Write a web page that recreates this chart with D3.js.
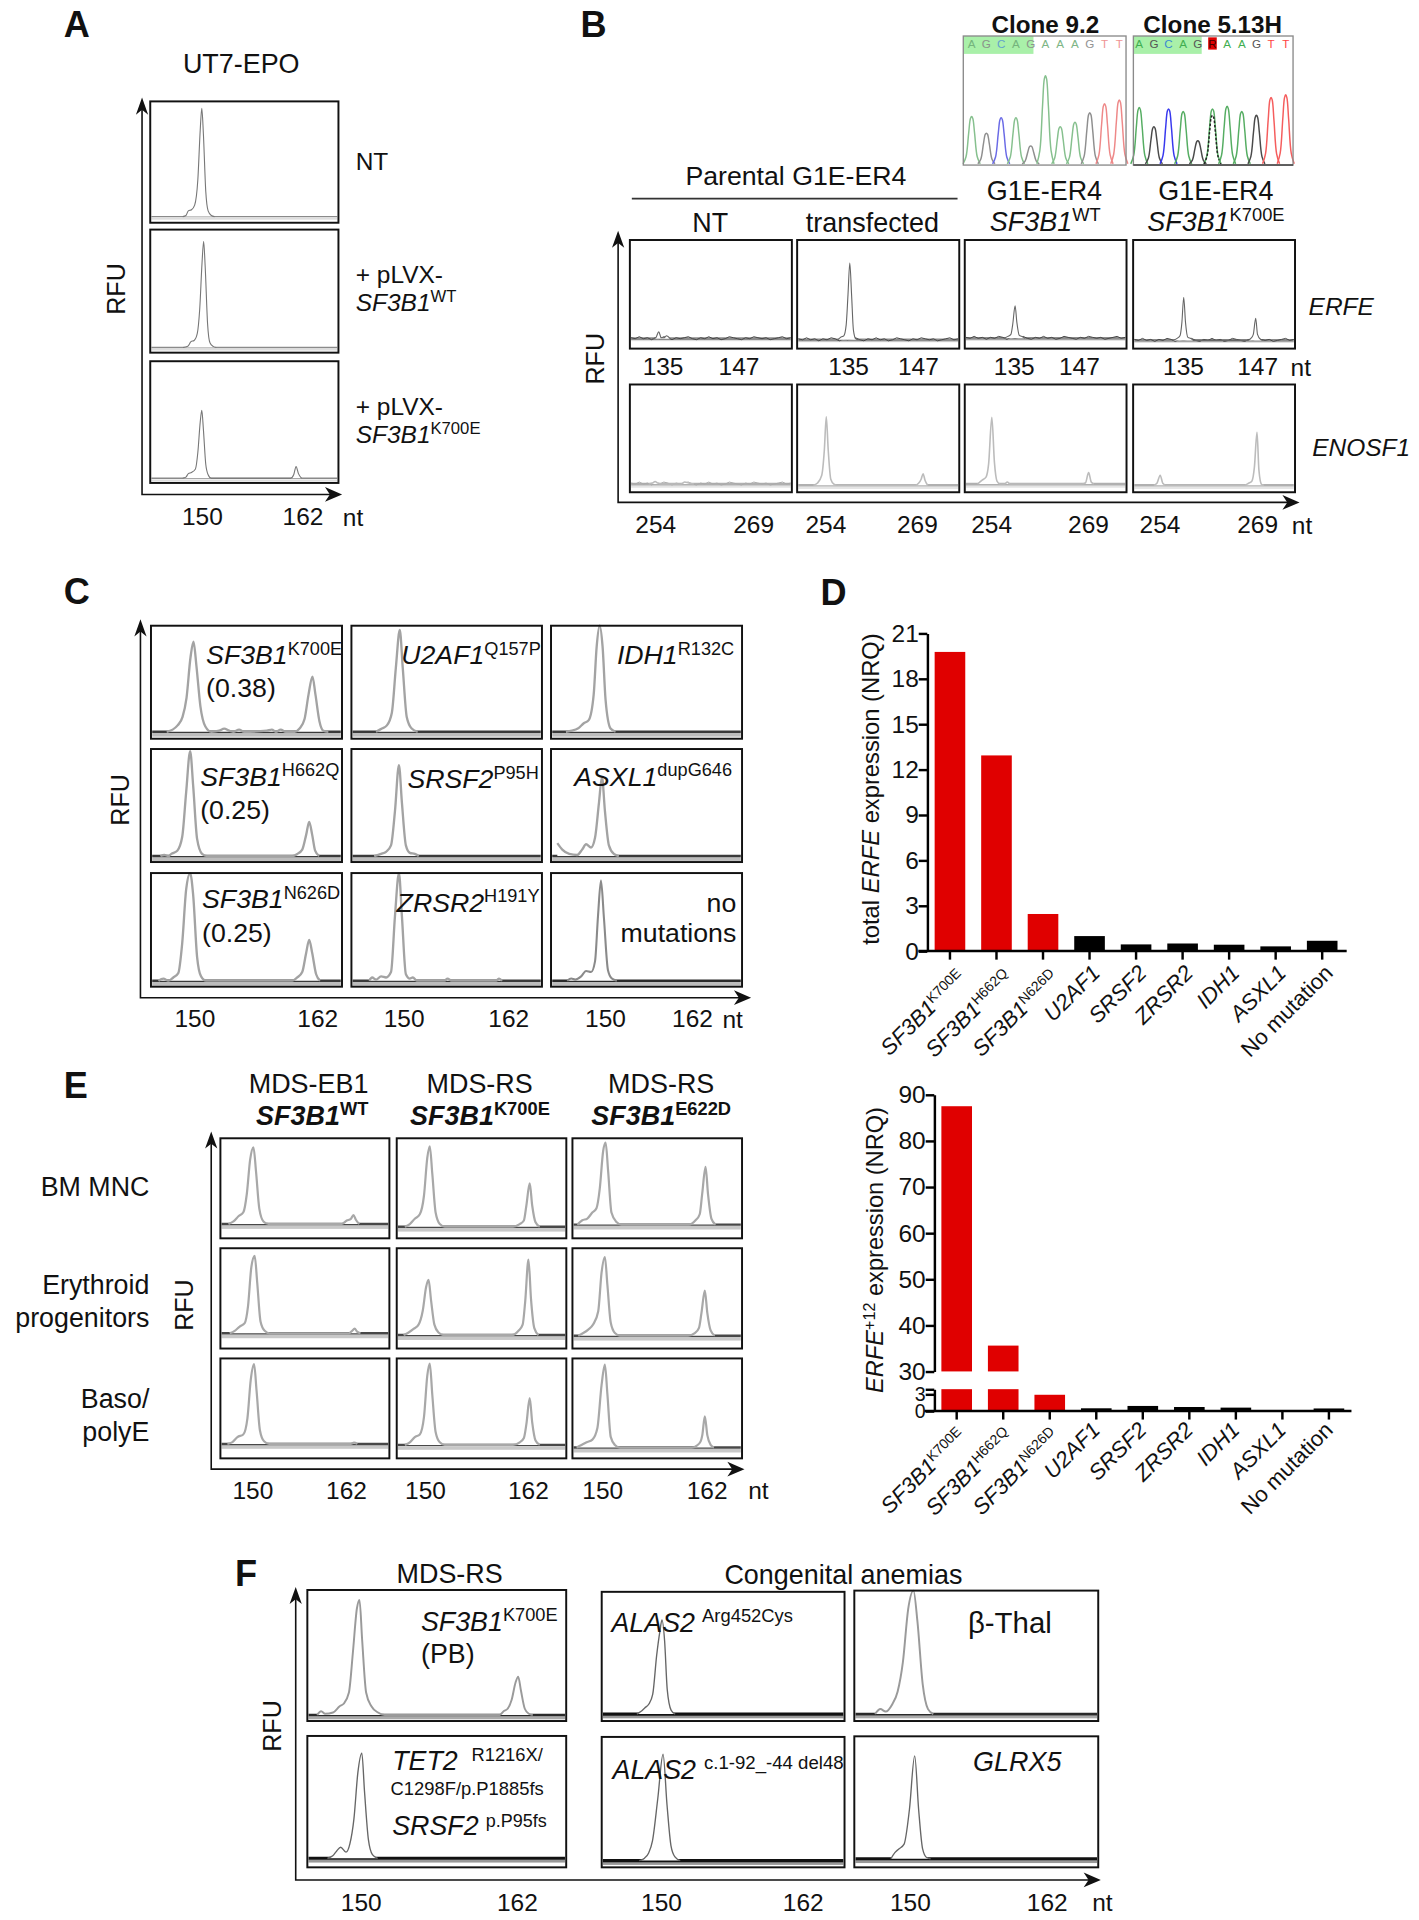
<!DOCTYPE html>
<html><head><meta charset="utf-8">
<script src="https://cdnjs.cloudflare.com/ajax/libs/d3/7.8.5/d3.min.js"></script>
<style>html,body{margin:0;background:#fff}svg{display:block}text{font-family:"Liberation Sans",Arial,sans-serif;fill:#111}</style>
</head><body><div id="c"></div>
<script>
// ---------- DATA: fragment traces, [nt, RFU] (RFU 100 = top of frame) ----------
const traceA1=[[147.6,0],[148,1],[148.3,5],[148.7,6],[149.1,10],[149.5,32],[149.8,75],[150,94],[150.2,72],[150.5,22],[150.8,5],[151.2,1],[151.6,0]];
const traceA2=[[147.4,0],[148,1],[148.4,5],[148.8,6],[149.2,12],[149.5,32],[149.8,72],[150,90],[150.2,68],[150.5,20],[150.8,4],[151.2,1],[151.6,0]];
const traceA3=[[147.6,0],[148,1],[148.3,4],[148.7,5],[149.2,8],[149.5,22],[149.8,48],[150,58],[150.2,42],[150.5,12],[150.8,3],[151.2,0],[161.2,0],[161.6,3],[161.9,10],[162.2,4],[162.6,0]];
const traceB11=[[134,0],[134.5,1],[135,7],[135.4,1],[135.9,1],[136.3,3],[136.9,0]];
const traceB12=[[133,0],[133.6,3],[134,4],[134.4,15],[134.7,45],[135,77],[135.3,45],[135.6,10],[136,1],[136.5,0]];
const traceB13=[[133.2,0],[133.8,2],[134.3,4],[134.6,14],[135,33],[135.3,16],[135.7,3],[136.1,2],[136.6,0]];
const traceB14=[[133.2,0],[133.9,2],[134.4,5],[134.7,18],[135,43],[135.3,18],[135.7,3],[136.2,2],[136.7,0],[145.6,0],[146.2,2],[146.6,6],[147,22],[147.3,6],[147.8,1],[148.2,0]];
const traceB21=[[253,0],[253.6,1],[254,2.5],[254.4,1],[255,0],[258,0],[258.6,2],[259.2,1],[260,0]];
const traceB22=[[252,0],[252.6,2],[253.3,10],[253.7,35],[254,68],[254.3,35],[254.7,6],[255.2,1],[255.8,0],[267.8,0],[268.3,2],[268.7,6],[269,11.5],[269.3,5],[269.7,0]];
const traceB23=[[251.8,0],[252.5,4],[253.1,7],[253.5,20],[254,67],[254.4,22],[254.8,3],[255.3,0],[256,0],[256.4,2],[256.8,0],[267.9,0],[268.5,1],[269,11.5],[269.4,2],[269.8,0]];
const traceB24=[[253,0],[253.5,2],[254,10],[254.4,2],[254.9,0],[267,0],[267.7,2],[268.2,4],[268.6,18],[269,52.5],[269.3,15],[269.7,1],[270.1,0]];
const traceC11=[[147.3,0],[147.9,2],[148.4,6],[148.9,14],[149.3,32],[149.7,70],[150,85],[150.3,62],[150.7,24],[151.2,5],[151.8,0],[152.6,1],[153.1,3],[153.6,1],[154,0],[154.6,2],[155.1,0],[157.4,1],[157.9,2],[158.3,0],[158.8,2],[159.3,0],[160.2,0],[160.7,3],[161.2,12],[161.6,35],[162,52],[162.3,35],[162.7,10],[163.1,1],[163.6,0]];
const traceC12=[[147.6,0],[148.2,3],[148.7,6],[149.2,18],[149.6,60],[150,96],[150.3,60],[150.7,14],[151.2,3],[151.8,0]];
const traceC13=[[146.6,0],[147.2,1],[147.8,3],[148.4,8],[148.9,11],[149.4,35],[149.7,80],[150,100],[150.3,80],[150.6,30],[151.1,3],[151.6,0]];
const traceC21=[[147,0],[147.4,1],[147.8,0],[148.1,2],[148.7,5],[149.2,18],[149.6,60],[150,98],[150.3,66],[150.7,16],[151.2,2],[151.7,0],[160.3,0],[160.8,2],[161.3,6],[161.7,20],[162,32],[162.3,20],[162.6,5],[163,0]];
const traceC22=[[147.5,0],[148.2,2],[148.7,4],[149.2,10],[149.6,42],[150,85],[150.3,50],[150.7,10],[151.1,3],[151.6,2],[152,0]];
const traceC23=[[145.6,12],[146.1,6],[146.8,2],[147.6,1],[148.1,6],[148.5,11],[149,8],[149.4,17],[149.8,50],[150.1,74],[150.4,42],[150.8,10],[151.3,2],[151.8,0]];
const traceC31=[[146.8,0],[147.3,2],[147.8,0],[148.3,3],[148.8,7],[149.2,35],[149.6,85],[150,100],[150.3,80],[150.7,22],[151.1,4],[151.6,0],[160.3,0],[160.8,3],[161.3,8],[161.7,26],[162,38],[162.3,26],[162.7,6],[163.1,0]];
const traceC32=[[147,0],[147.3,3],[147.7,1],[148.2,4],[148.7,3],[149.2,8],[149.6,60],[150,100],[150.3,60],[150.7,6],[151.1,2],[151.4,3],[151.8,0],[154.6,0],[154.9,2],[155.3,0],[159.8,0],[160.1,2],[160.4,0]];
const traceC33=[[146.6,0],[147,2],[147.4,1],[148,4],[148.5,9],[149,8],[149.4,18],[149.7,60],[150,93],[150.3,58],[150.7,10],[151.1,2],[151.6,0]];
const traceE11=[[147,0],[147.6,3],[148.2,9],[148.8,14],[149.2,35],[149.6,75],[150,89.5],[150.3,62],[150.7,18],[151.2,3],[151.8,0],[160.6,0],[161.2,4],[161.7,6],[162,10.5],[162.3,5],[162.7,0]];
const traceE12=[[147,0],[147.6,3],[148.2,9],[148.8,14],[149.3,35],[149.7,78],[150,91],[150.3,60],[150.7,16],[151.2,3],[151.8,0],[160,0],[160.8,3],[161.3,7],[161.6,24],[162,49],[162.3,24],[162.7,5],[163.2,0]];
const traceE13=[[146.6,0],[147.2,5],[147.8,7],[148.4,14],[148.9,19],[149.3,42],[149.7,85],[150,95],[150.3,62],[150.7,14],[151.3,3],[151.9,0],[160,0],[160.8,5],[161.3,12],[161.6,36],[162,67],[162.3,35],[162.7,7],[163.2,0]];
const traceE21=[[147,0],[147.6,3],[148.2,8],[148.8,12],[149.2,32],[149.6,78],[150,91],[150.3,60],[150.7,14],[151.2,3],[151.8,0],[161.3,0],[161.7,3],[162,5.5],[162.3,2],[162.7,0]];
const traceE22=[[147,0],[147.6,3],[148.2,7],[148.8,12],[149.3,28],[149.7,55],[150,63.5],[150.3,40],[150.7,12],[151.2,3],[151.8,0],[160,0],[160.8,5],[161.3,12],[161.6,38],[162,87],[162.3,42],[162.7,8],[163.2,0]];
const traceE23=[[146.8,0],[147.4,3],[148,7],[148.6,13],[149.2,28],[149.6,72],[150,90],[150.3,58],[150.7,15],[151.2,3],[151.8,0],[160,0],[160.8,3],[161.3,9],[161.6,26],[162,51.5],[162.3,26],[162.7,6],[163.2,0]];
const traceE31=[[146.8,0],[147.4,2],[148,8],[148.7,11],[149.2,30],[149.6,75],[150,93.4],[150.3,62],[150.7,16],[151.2,3],[151.8,0],[161.6,0],[162,1.5],[162.4,0]];
const traceE32=[[147,0],[147.6,3],[148.2,9],[148.8,12],[149.3,32],[149.7,80],[150,94],[150.3,58],[150.7,15],[151.2,3],[151.8,0],[160,0],[160.8,3],[161.3,8],[161.6,24],[162,54],[162.3,26],[162.7,5],[163.2,0]];
const traceE33=[[146.6,0],[147.2,3],[147.8,6],[148.5,9],[149.1,22],[149.6,70],[150,93],[150.3,60],[150.7,12],[151.2,3],[151.8,0],[160.4,0],[161,2],[161.5,7],[161.7,14],[162,35],[162.3,14],[162.7,3],[163.1,0]];
const traceF11=[[146.8,0],[147.1,3],[147.4,1],[148,2],[148.5,7],[148.8,9],[149.2,18],[149.5,50],[149.8,85],[150,92],[150.2,60],[150.5,18],[150.9,7],[151.4,2],[151.9,0],[160.6,0],[160.9,3],[161.2,5],[161.5,12],[161.8,26],[162,30.7],[162.2,20],[162.5,5],[162.8,1],[163.1,0]];
const traceF12=[[148.1,0],[148.4,2],[148.7,5],[149,8],[149.3,16],[149.6,48],[149.85,68],[150,77],[150.2,60],[150.4,20],[150.7,3],[151,0]];
const traceF13=[[147.1,0],[147.5,4],[147.9,2],[148.4,8],[148.8,18],[149.2,42],[149.6,85],[150,100],[150.3,75],[150.7,24],[151.1,4],[151.5,0]];
const traceF21=[[147.4,0],[147.8,2],[148.1,6],[148.4,9],[148.8,5],[149.1,12],[149.4,32],[149.7,70],[150,86],[150.2,55],[150.5,15],[150.8,3],[151.2,0]];
const traceF22=[[148.2,0],[148.6,2],[148.9,6],[149.2,16],[149.6,50],[150,86],[150.3,45],[150.6,12],[150.9,3],[151.3,0]];
const traceF23=[[148.2,0],[148.5,5],[148.8,8],[149.2,12],[149.6,40],[150,84],[150.3,40],[150.6,8],[150.9,1],[151.2,0]];
const baselineNoise=[1,0,2,0,1,-1,1,0,2,1,-1,1,0,1,2,0,-1,1,0,2,0,1,-1,0,2,1,0,-1,1,0,2,1,0,1,-1,0,1,2,0,1];

// tick values of the size axes
const ticksA=[150,162], ticksB1=[135,147], ticksB2=[254,269], ticksNt=[150,162];

// Sanger read-outs
const clone92Bases=["A","G","C","A","G","A","A","A","G","T","T"];
const clone92Heights=[37,24,36,36,14,69,29,32.5,40,47,50];
const clone513Bases=["A","G","C","A","G","R","A","A","G","T","T"];
const clone513Heights=[44,29,43,41,18,43,45,41,38,52,54];

// Bar charts
const geneCategories=["SF3B1K700E","SF3B1H662Q","SF3B1N626D","U2AF1","SRSF2","ZRSR2","IDH1","ASXL1","No mutation"];
const barColors=["#e00000","#e00000","#e00000","#000","#000","#000","#000","#000","#000"];
const totalErfe=[19.77,12.93,2.45,0.99,0.44,0.5,0.42,0.31,0.68];
const erfe12=[87.5,35.6,2.9,0.48,0.9,0.71,0.6,0.05,0.45];
const totalTicks=[0,3,6,9,12,15,18,21];
const erfeUpperTicks=[30,40,50,60,70,80,90];
const erfeLowerTicks=[0,3,3.9];

// ---------- LAYOUT (drawn in the 1159x1568 space of the figure) ----------
const svg=d3.select("#c").append("svg").attr("width",1419).attr("height",1920).attr("viewBox","0 0 1158.86 1568");

function T(x,y,parts,o={}){
  const size=o.size||20, t=svg.append("text").attr("font-size",size).attr("text-anchor",o.anchor||"start");
  if(o.rot!=null) t.attr("transform",`translate(${x},${y}) rotate(${o.rot})`).attr("y",size*0.35);
  else t.attr("x",x).attr("y",y+size*0.35);
  if(o.bold) t.attr("font-weight","bold");
  writeParts(t,parts,size,o.supRatio||0.68);
  return t;
}
function writeParts(t,parts,size,ratio){
  let lift=0;
  (Array.isArray(parts)?parts:[parts]).forEach(p=>{
    const s=typeof p==="string"?{t:p}:p;
    const span=t.append("tspan").text(s.t).attr("xml:space","preserve").style("white-space","pre");
    if(s.i) span.attr("font-style","italic");
    const want=s.sup?-size*0.36:0;
    if(want!==lift){span.attr("dy",want-lift);lift=want;}
    if(s.sup) span.attr("font-size",size*ratio);
  });
}
const I=t=>({t,i:1}), S=t=>({t,sup:1});

function arrows(x,top,bottom,right){
  svg.append("path").attr("d",d3.line()([[x,top+6],[x,bottom],[right-6,bottom]])).attr("fill","none").attr("stroke","#111").attr("stroke-width",1.3);
  svg.append("path").attr("fill","#111").attr("d",d3.line()([[x,top],[x+5,top+14],[x,top+10],[x-5,top+14]])+"Z");
  svg.append("path").attr("fill","#111").attr("d",d3.line()([[right,bottom],[right-14,bottom+6],[right-10,bottom],[right-14,bottom-6]])+"Z");
}
function panel(l,trace,ref,pxPerNt,st){
  const [x0,y0,x1,y1,base,px]=l;
  const x=d3.scaleLinear().domain([ref,ref+12]).range([px,px+12*pxPerNt]);
  const y=d3.scaleLinear().domain([0,100]).range([base,y0]);
  svg.append("rect").attr("x",x0).attr("y",y0).attr("width",x1-x0).attr("height",y1-y0).attr("fill","#fff");
  svg.append("rect").attr("x",x0+1).attr("y",base+1).attr("width",x1-x0-2).attr("height",st.band).attr("fill",st.bandColor);
  svg.append("line").attr("x1",x0+1).attr("x2",x1-1).attr("y1",base).attr("y2",base).attr("stroke",st.base).attr("stroke-width",st.baseW);
  if(st.noise){
    const nx=d3.scaleLinear().domain([0,baselineNoise.length-1]).range([x0+1,x1-1]);
    svg.append("path").attr("fill","none").attr("stroke",st.noise).attr("stroke-width",.8)
      .attr("d",d3.line().x((d,i)=>nx(i)).y(d=>y(d))(baselineNoise));
  }
  svg.append("path").datum(trace).attr("fill","#fff").attr("stroke","none")
    .attr("d",d3.area().x(d=>x(d[0])).y0(base).y1(d=>y(d[1])).curve(d3.curveMonotoneX));
  svg.append("path").datum(trace).attr("fill","none").attr("stroke",st.stroke).attr("stroke-width",st.w).attr("stroke-linejoin","round")
    .attr("d",d3.line().x(d=>x(d[0])).y(d=>y(d[1])).curve(d3.curveMonotoneX));
  svg.append("rect").attr("x",x0).attr("y",y0).attr("width",x1-x0).attr("height",y1-y0).attr("fill","none").attr("stroke","#111").attr("stroke-width",1.6);
}
function sizeTicks(y,vals,a,b,size=20){
  const s=d3.scaleLinear().domain(vals).range([a,b]);
  const g=svg.append("g").attr("transform",`translate(0,${y-size*0.35-0.5})`)
    .call(d3.axisBottom(s).tickValues(vals).tickSize(0).tickPadding(0).tickFormat(d3.format("d")));
  g.select(".domain").remove();
  g.selectAll("text").attr("font-size",size).attr("font-family",'"Liberation Sans",Arial,sans-serif').attr("fill","#111").attr("dy",size*0.7);
}
const letter=(x,y,s)=>T(x,y,s,{size:29.5,bold:true});
const STa={stroke:"#777",w:.9,base:"#8a8a8a",baseW:1.1,band:1.5,bandColor:"#ddd"};
const STb1={stroke:"#666",w:.9,base:"#8c8c8c",baseW:2.2,band:1,bandColor:"#ddd",noise:"#444"};
const STb2={stroke:"#bcbcbc",w:1.3,base:"#b0b0b0",baseW:2.2,band:2,bandColor:"#e4e4e4"};
const STc={stroke:"#a3a3a3",w:1.9,base:"#3a3a3a",baseW:2,band:3,bandColor:"#bcbcbc"};
const STc2={stroke:"#8a8a8a",w:1.7,base:"#2a2a2a",baseW:2,band:3,bandColor:"#bcbcbc"};
const STe={stroke:"#a8a8a8",w:1.8,base:"#484848",baseW:2,band:3,bandColor:"#c8c8c8"};
const STf={stroke:"#666",w:1.1,base:"#111",baseW:2.6,band:2.5,bandColor:"#999"};
const STf2={stroke:"#9a9a9a",w:1.6,base:"#2a2a2a",baseW:2.2,band:2.5,bandColor:"#aaa"};

// ---- A ----
letter(52,20,"A");
T(197,52,"UT7-EPO",{size:22,anchor:"middle"});
arrows(116,79.7,403.8,279.4);
[[122.7,82.8,276.4,181.9,176.9,164.8],[122.7,187.5,276.4,288,283.8,166.3],[122.7,295,276.4,394.4,390.6,164.8]]
  .forEach((l,i)=>panel(l,[traceA1,traceA2,traceA3][i],150,6.47,STa));
T(95.3,236,"RFU",{rot:-90,anchor:"middle",size:20.5});
T(290.5,132,"NT");
T(290.5,223.8,"+ pLVX-",{size:20}); T(290.5,247,[I("SF3B1"),S("WT")],{size:20});
T(290.5,332,"+ pLVX-",{size:20}); T(290.5,354.7,[I("SF3B1"),S("K700E")],{size:20});
sizeTicks(422.5,ticksA,164.8,246.9); T(280,422.5,"nt");

// ---- B ----
letter(474,20,"B");
T(853.7,19.7,"Clone 9.2",{size:19.8,bold:true,anchor:"middle"});
T(990.4,19.7,"Clone 5.13H",{size:19.8,bold:true,anchor:"middle"});
const baseColorsLight={A:"#86c08e",G:"#8f8f8f",C:"#6a6ae6",T:"#ee8888",R:"#333"};
const baseColorsDark={A:"#55ad62",G:"#4a4a4a",C:"#3838ee",T:"#f55d5d",R:"#55ad62"};
const sangerShape=[[-.58,0],[-.38,.15],[-.2,.65],[-.08,.96],[0,1],[.08,.96],[.2,.65],[.38,.15],[.58,0]];
function sanger(x0,x1,first,step,greenEnd,bases,heights,cols,letterCols,borderBottom,op){
  const top=29.4,bot=134.8;
  svg.append("rect").attr("x",x0).attr("y",top).attr("width",greenEnd-x0).attr("height",14.6).attr("fill","#a9f0a9");
  const x=d3.scaleLinear().domain([0,10]).range([first,first+10*step]);
  const y=d3.scaleLinear().domain([0,100]).range([bot-1,top]);
  const ln=d3.line().x(d=>d[0]).y(d=>d[1]).curve(d3.curveCatmullRom);
  bases.forEach((b,i)=>{
    const pts=sangerShape.map(s=>[x(i+s[0]),y(heights[i]*s[1])]);
    svg.append("path").attr("d",ln(pts)).attr("fill","none").attr("stroke",cols[b]).attr("stroke-width",1.2);
    if(b==="R") svg.append("path").attr("d",ln(sangerShape.map(s=>[x(i+s[0]),y(38*s[1])]))).attr("fill","none").attr("stroke","#222").attr("stroke-width",1.2).attr("stroke-dasharray","2 1.5");
    if(b==="R") svg.append("rect").attr("x",x(i)-3.5).attr("y",30.5).attr("width",7).attr("height",10).attr("fill","#e00000");
    T(x(i),35.5,b,{size:9.5,anchor:"middle"}).style("fill",b==="R"?"#400":letterCols[b]).attr("opacity",op);
  });
  svg.append("rect").attr("x",x0).attr("y",top).attr("width",x1-x0).attr("height",bot-top).attr("fill","none").attr("stroke","#8a8a8a").attr("stroke-width",1.1);
  if(borderBottom) svg.append("line").attr("x1",x0).attr("x2",x1).attr("y1",bot).attr("y2",bot).attr("stroke","#444").attr("stroke-width",1.3);
}
sanger(786.7,919.6,793.5,12.06,844,clone92Bases,clone92Heights,baseColorsLight,{A:"#6fae78",G:"#888",C:"#5a9ad0",T:"#ee8888"},false,.9);
sanger(925.6,1056,930.4,11.96,981.4,clone513Bases,clone513Heights,baseColorsDark,{A:"#3fae50",G:"#555",C:"#3a8ad0",T:"#f44"},true,1);

T(650,143.8,"Parental G1E-ER4",{size:21.8,anchor:"middle"});
svg.append("line").attr("x1",516).attr("x2",782).attr("y1",162.2).attr("y2",162.2).attr("stroke","#333").attr("stroke-width",1.3);
T(580,181.9,"NT",{size:22,anchor:"middle"}); T(712.5,181.9,"transfected",{size:22,anchor:"middle"});
T(853,155.3,"G1E-ER4",{size:22,anchor:"middle"}); T(853.6,181,[I("SF3B1"),S("WT")],{size:22,anchor:"middle"});
T(993,155.3,"G1E-ER4",{size:22,anchor:"middle"}); T(993,181,[I("SF3B1"),S("K700E")],{size:22,anchor:"middle"});
arrows(504.8,188.4,410.3,1061.3);
const colB=[[514.4,646.7],[651,783.4],[787.9,920],[925.4,1057.6]];
[276.6,277.5,276.3,278].forEach((base,i)=>panel([colB[i][0],196,colB[i][1],284.7,base,[538,694,829,966.7][i]],[traceB11,traceB12,traceB13,traceB14][i],135,4.9,STb1));
[395.3,396.3,395.3,396.3].forEach((base,i)=>panel([colB[i][0],314,colB[i][1],402,base,[535,674.8,810,947.5][i]],[traceB21,traceB22,traceB23,traceB24][i],254,5.27,i===0?Object.assign({},STb2,{noise:"#aaa"}):STb2));
T(486.3,293,"RFU",{rot:-90,anchor:"middle",size:20.5});
T(1068.7,250,[I("ERFE")],{size:20}); T(1071.7,365.6,[I("ENOSF1")],{size:20});
[[541,603],[692.5,749.5],[827.8,881],[966,1026.6]].forEach(p=>sizeTicks(300,ticksB1,p[0],p[1]));
T(1054,300,"nt");
[[535,615],[674,748.7],[809.3,888.4],[946.8,1026.6]].forEach(p=>sizeTicks(429,ticksB2,p[0],p[1]));
T(1055,429,"nt");

// ---- C ----
letter(52,483,"C");
arrows(114.7,505.8,814.8,613.4);
const colC=[[123.3,279.3],[287,442.6],[450,606]], rowC=[[511,603.3,597.6],[611.7,704,699.1],[713,805.8,800.9]];
const tracesC=[[traceC11,traceC12,traceC13],[traceC21,traceC22,traceC23],[traceC31,traceC32,traceC33]];
const pxC=[[158,326.5,489.7],[155.3,325.8,490.8],[155.3,325.8,490.8]];
rowC.forEach((r,ri)=>colC.forEach((c,ci)=>panel([c[0],r[0],c[1],r[1],r[2],pxC[ri][ci]],tracesC[ri][ci],150,8.1,ri===2&&ci===2?STc2:STc)));
T(97.8,653.3,"RFU",{rot:-90,anchor:"middle",size:20.5});
const mainC=21.8;
T(168.3,535,[I("SF3B1"),S("K700E")],{size:mainC}); T(168.3,561.3,"(0.38)",{size:mainC});
T(327.7,535,[I("U2AF1"),S("Q157P")],{size:mainC}); T(503.8,535,[I("IDH1"),S("R132C")],{size:mainC});
T(163.5,634.2,[I("SF3B1"),S("H662Q")],{size:mainC}); T(163.5,661,"(0.25)",{size:mainC});
T(332.7,636,[I("SRSF2"),S("P95H")],{size:mainC}); T(469,634.2,[I("ASXL1"),S("dupG646")],{size:mainC});
T(165,734,[I("SF3B1"),S("N626D")],{size:mainC}); T(165,762,"(0.25)",{size:mainC});
T(323.9,737,[I("ZRSR2"),S("H191Y")],{size:mainC});
T(601.3,737,"no",{size:mainC,anchor:"end"}); T(601.3,762,"mutations",{size:mainC,anchor:"end"});
[[158.6,259],[329.5,415],[494,565]].forEach(p=>sizeTicks(832.5,ticksNt,p[0],p[1]));
T(590,832.5,"nt");

// ---- E ----
letter(52,886,"E");
const colE=[[180,318],[324,462.5],[467.5,606]], rowE=[[929.6,1011.3],[1019.4,1101.3],[1109.4,1191]];
const tracesE=[[traceE11,traceE12,traceE13],[traceE21,traceE22,traceE23],[traceE31,traceE32,traceE33]];
const baseE=[[999.6,1001.8,1000.1],[1088.9,1090.3,1090.8],[1179.2,1180,1182.2]];
const pxE=[[207,351,494.6],[208,350,494],[207.5,351,494]];
arrows(172.5,924,1199.8,608);
rowE.forEach((r,ri)=>colE.forEach((c,ci)=>panel([c[0],r[0],c[1],r[1],baseE[ri][ci],pxE[ri][ci]],tracesE[ri][ci],150,6.8,STe)));
T(150.8,1065.8,"RFU",{rot:-90,anchor:"middle",size:20.5});
T(252,885.3,"MDS-EB1",{size:22,anchor:"middle"}); T(391.7,885.3,"MDS-RS",{size:22,anchor:"middle"}); T(540,885.3,"MDS-RS",{size:22,anchor:"middle"});
T(255,911,[I("SF3B1"),S("WT")],{size:22,anchor:"middle",bold:true}); T(392,911,[I("SF3B1"),S("K700E")],{size:22,anchor:"middle",bold:true}); T(540,911,[I("SF3B1"),S("E622D")],{size:22,anchor:"middle",bold:true});
[["BM MNC",969],["Erythroid",1049.4],["progenitors",1076],["Baso/",1142],["polyE",1169]].forEach(d=>T(122,d[1],d[0],{size:21.9,anchor:"end"}));
[[206,282.5],[347,431],[491.7,577]].forEach(p=>sizeTicks(1217.6,ticksNt,p[0],p[1]));
T(611,1217.6,"nt");

// ---- F ----
letter(192,1285,"F");
T(367.2,1285,"MDS-RS",{size:22,anchor:"middle"}); T(688.8,1286,"Congenital anemias",{size:22,anchor:"middle"});
arrows(241.5,1296,1535.3,899);
const colF=[[251,462.4],[491.4,689.7],[697.7,896.9]];
panel([colF[0][0],1298.5,colF[0][1],1405.5,1400.6,293.6],traceF11,150,10.8,STf2);
panel([colF[1][0],1300,colF[1][1],1405.5,1399.8,540.6],traceF12,150,10.8,STf);
panel([colF[2][0],1299,colF[2][1],1405.5,1399.8,746],traceF13,150,10.8,STf2);
panel([colF[0][0],1417.7,colF[0][1],1525,1517.6,295.5],traceF21,150,10.8,STf);
panel([colF[1][0],1418.5,colF[1][1],1525,1519.5,541.5],traceF22,150,10.8,STf);
panel([colF[2][0],1418,colF[2][1],1525,1518,747],traceF23,150,10.8,STf);
T(221.9,1409.6,"RFU",{rot:-90,anchor:"middle",size:20.5});
T(343.8,1324,[I("SF3B1"),S("K700E")],{size:21.9}); T(343.8,1350.2,"(PB)",{size:21.9});
T(499.4,1325,[I("ALAS2")],{size:21.9}); T(573.4,1319.7,"Arg452Cys",{size:15});
T(790.5,1325,[{t:"β-Thal"}],{size:24});
T(320.3,1437.8,[I("TET2")],{size:21.9}); T(385,1433,"R1216X/",{size:15});
T(319,1460.4,"C1298F/p.P1885fs",{size:15});
T(320.3,1491.3,[I("SRSF2")],{size:21.9}); T(396.7,1487,"p.P95fs",{size:14.7});
T(500.3,1445,[I("ALAS2")],{size:21.9}); T(574.9,1439.5,"c.1-92_-44 del48",{size:15.2});
T(794.7,1438.7,[I("GLRX5")],{size:22});
[[294.5,422],[539.7,655.5],[743,854.7]].forEach(p=>sizeTicks(1553.8,ticksNt,p[0],p[1]));
T(892,1553.8,"nt");

// ---- D / bar charts ----
letter(670,484,"D");
function catLabels(g,plain,withSup){
  g.selectAll(".tick text").each(function(d){
    const isSup=d.startsWith("SF3B1"), off=isSup?withSup:plain;
    const t=d3.select(this).text(null).attr("text-anchor","end").attr("font-size",18).attr("font-family",'"Liberation Sans",Arial,sans-serif').attr("fill","#111")
      .attr("x",0).attr("y",0).attr("dy",0).attr("transform",`translate(${off[0]},${off[1]}) rotate(-45)`);
    if(isSup) { t.append("tspan").attr("font-style","italic").text("SF3B1"); t.append("tspan").attr("font-size",11.5).attr("dy",-6).text(d.slice(5)); }
    else if(d==="No mutation") t.text(d);
    else t.append("tspan").attr("font-style","italic").text(d);
  });
}
function styleAxis(g,fs){
  g.selectAll("path,line").attr("stroke","#000").attr("stroke-width",2);
  g.selectAll("text").attr("font-size",fs).attr("font-family",'"Liberation Sans",Arial,sans-serif').attr("fill","#111");
}
// upper bar chart
{
  const x=d3.scaleBand().domain(geneCategories).range([763.3,1092.3]).paddingInner(.342).paddingOuter(0);
  const y=d3.scaleLinear().domain([0,21]).range([776.7,517.2]);
  svg.append("g").selectAll("rect").data(geneCategories).join("rect")
    .attr("x",d=>x(d)).attr("width",x.bandwidth()).attr("y",(d,i)=>y(totalErfe[i])).attr("height",(d,i)=>y(0)-y(totalErfe[i])).attr("fill",(d,i)=>barColors[i]);
  const gy=svg.append("g").attr("transform","translate(757.3,0)").call(d3.axisLeft(y).tickValues(totalTicks).tickSize(7).tickSizeOuter(0).tickPadding(0));
  styleAxis(gy,20);
  const gx=svg.append("g").attr("transform","translate(0,776.7)").call(d3.axisBottom(x).tickSize(7).tickSizeOuter(0));
  gx.select(".domain").attr("d","M750,0H1099.8");
  styleAxis(gx,18); catLabels(gx,[9.7,19],[14,23]);
  T(710.7,644.4,["total ",I("ERFE")," expression (NRQ)"],{rot:-90,anchor:"middle",size:19.4});
}
// lower (broken axis) bar chart
{
  const x=d3.scaleBand().domain(geneCategories).range([768.8,1097.8]).paddingInner(.342).paddingOuter(0);
  const up=d3.scaleLinear().domain([30,90]).range([1120,894]).clamp(true);
  const lo=d3.scaleLinear().domain([0,3.9]).range([1152.3,1134.5]).clamp(true);
  svg.append("g").selectAll("rect").data(geneCategories).join("rect")
    .attr("x",d=>x(d)).attr("width",x.bandwidth()).attr("y",(d,i)=>lo(erfe12[i])).attr("height",(d,i)=>lo(0)-lo(erfe12[i])).attr("fill",(d,i)=>barColors[i]);
  svg.append("g").selectAll("rect").data(geneCategories.filter((d,i)=>erfe12[i]>30)).join("rect")
    .attr("x",d=>x(d)).attr("width",x.bandwidth()).attr("y",d=>up(erfe12[geneCategories.indexOf(d)])).attr("height",d=>up(30)-up(erfe12[geneCategories.indexOf(d)])).attr("fill","#e00000");
  const gu=svg.append("g").attr("transform","translate(763,0)").call(d3.axisLeft(up).tickValues(erfeUpperTicks).tickSize(7).tickSizeOuter(0).tickPadding(0));
  styleAxis(gu,20);
  const gl=svg.append("g").attr("transform","translate(763,0)").call(d3.axisLeft(lo).tickValues(erfeLowerTicks).tickSize(7).tickSizeOuter(0).tickPadding(0).tickFormat(d=>d===3.9?"":d));
  styleAxis(gl,16);
  const gx=svg.append("g").attr("transform","translate(0,1152.3)").call(d3.axisBottom(x).tickSize(7).tickSizeOuter(0));
  gx.select(".domain").attr("d","M755,0H1103.7");
  styleAxis(gx,18); catLabels(gx,[4.2,16.7],[8.7,21.7]);
  T(714.6,1020.8,[I("ERFE"),S("+12")," expression (NRQ)"],{rot:-90,anchor:"middle",size:19.3});
}
</script></body></html>
